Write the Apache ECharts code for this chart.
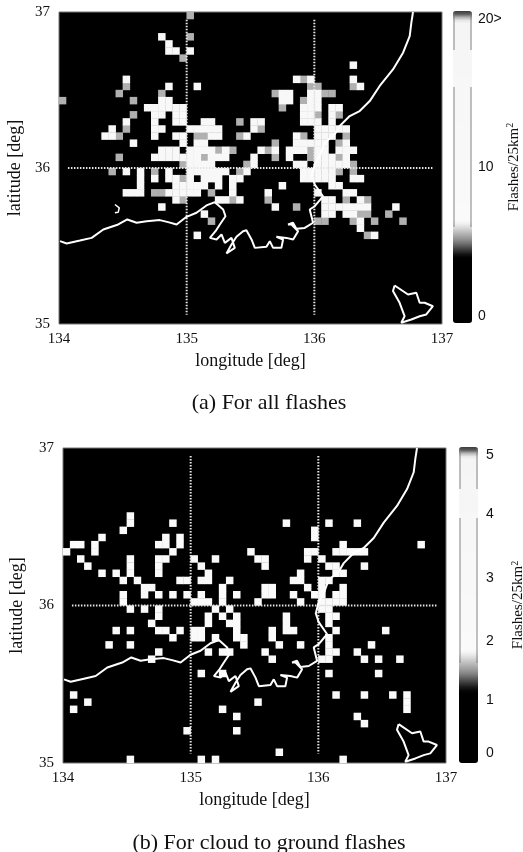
<!DOCTYPE html>
<html>
<head>
<meta charset="utf-8">
<style>html,body{margin:0;padding:0;background:#fff}#c{width:523px;height:852px}</style>
<script src="https://cdn.jsdelivr.net/npm/echarts@6/dist/echarts.min.js"></script>
</head>
<body>
<div id="c"></div>
<script>
// 5 km cells: 54 columns (1/18 deg lon) by 44 rows (1/22 deg lat), row 0 at 37N
const nCols = 54, nRows = 44;
const lonTicks = [134, 135, 136, 137];
const allHigh = 12, allMid = 5.5, cgHigh = 2;

// (a) all flashes: row -> columns of bright (saturated) cells
const allHighRows = {
  3:[14],4:[15],5:[15,16,18],7:[41],9:[9,33,35,41],10:[15,19,42],
  11:[31,32,35,36],12:[14,15,31,32,35,36],
  13:[12,13,14,15,16,17,34,35,36,38,39],14:[13,14,16,17,34,35,38],
  15:[9,13,16,17,20,21,27,28,34,35,36,38],
  16:[7,13,14,18,19,20,21,22,27,36,37,38,39,40],
  17:[6,7,13,16,17,21,22,26,33,36,37,38],
  18:[10,17,19,20,33,34,35,36,37,40],
  19:[14,15,16,18,19,20,21,23,28,30,32,33,34,36,37,39,40,41],
  20:[13,14,15,16,17,18,19,21,22,23,27,32,36,37,38,40],
  21:[18,19,20,21,27,33,34,36,37,38,39,40],
  22:[9,11,15,18,19,20,21,22,23,26,34,35,36,37,38],
  23:[11,13,15,16,18,20,21,22,24,25,34,35,36,37,38,41,42],
  24:[11,16,17,18,19,20,22,24,31,38,39],
  25:[9,10,11,15,16,17,18,19,24,29,36,40,41],
  26:[16,22,23,25,37,38,42],27:[14,30,37,38,39,40,41,42,43,47],
  28:[20,37,38,40,41],29:[42],30:[42],31:[19,44]
};
// (a) all flashes: row -> columns of mid-grey cells
const allMidRows = {
  0:[18],3:[18],6:[17],9:[34],10:[9,35,36,41],11:[8,14,30,37,38],12:[0,10,34],
  13:[31],14:[10,36,39],15:[25],16:[9,28],17:[8,19,20,25,34,40],18:[30,39],
  19:[22,24,29,35],20:[8,20,30,35,39],21:[17,26,41],22:[7,13,25,39,41],23:[17],
  25:[13,14,21],26:[17,24,29,40,43],27:[33],28:[42,43,46],29:[21,36,37,41,44,48],31:[43]
};
// (b) cloud to ground flashes: row -> columns of bright cells
const cgHighRows = {
  9:[9],10:[9,15,31,37,41],11:[8,35],12:[5,14,16,35],13:[1,2,4,13,14,16,39,50],
  14:[0,4,15,26,34,35,38,39,40,41,42],15:[2,9,13,14,18,21,27,28,34,36],
  16:[3,9,13,19,28,37,38,42],17:[5,7,9,13,20,33,38,39],
  18:[8,10,16,17,19,20,23,32,33,36,37],19:[11,12,22,28,29,34,36,39],
  20:[8,11,13,15,17,19,22,24,28,29,32,35,36,38,39],
  21:[8,18,19,20,22,27,33,36,37,38,39],22:[9,11,13,21,23,36,37],
  23:[13,20,22,24,31,37,38],24:[12,20,23,24,31,37],
  25:[7,9,13,14,16,18,19,24,29,31,32,38,45],26:[15,18,19,21,24,25,29,37],
  27:[6,9,25,30,33,37,43],28:[13,20,22,23,28,37,38,41],29:[12,29,36,37,42,44,47],
  31:[19,22,37,44],34:[1,38,42,46,48],35:[3,27,48],36:[1,22,48],37:[24,41],
  38:[42],39:[17,24],42:[30],43:[9,19,21,39]
};
// Coastlines, [lon, lat]
const coastMain = [[134.008,35.531],[134.06,35.516],[134.164,35.535],[134.256,35.552],[134.347,35.606],[134.464,35.638],[134.535,35.67],[134.608,35.649],[134.686,35.659],[134.79,35.666],[134.855,35.653],[134.921,35.638],[134.999,35.687],[135.077,35.713],[135.155,35.76],[135.221,35.781],[135.286,35.734],[135.304,35.691],[135.26,35.638],[135.226,35.595],[135.182,35.552],[135.234,35.542],[135.273,35.574],[135.299,35.52],[135.351,35.552],[135.377,35.488],[135.312,35.452],[135.351,35.51],[135.39,35.559],[135.442,35.595],[135.468,35.601],[135.508,35.542],[135.534,35.488],[135.625,35.495],[135.651,35.531],[135.677,35.488],[135.742,35.488],[135.755,35.542],[135.703,35.559],[135.781,35.552],[135.834,35.542],[135.873,35.595],[135.821,35.638],[135.794,35.638],[135.833,35.649],[135.859,35.61],[135.925,35.616],[135.99,35.649],[135.964,35.734],[136.003,35.755],[136.05,35.8],[136.068,35.819],[136.003,35.894],[135.98,35.95],[136.003,36.024],[136.042,36.077],[136.081,36.162],[136.16,36.216],[136.199,36.269],[136.277,36.333],[136.355,36.365],[136.434,36.429],[136.512,36.526],[136.616,36.632],[136.695,36.739],[136.747,36.846],[136.76,36.932],[136.773,37]];
const coastPeninsula = [[136.629,35.247],[136.616,35.211],[136.668,35.136],[136.707,35.05],[136.681,35.008],[136.76,35.029],[136.825,35.05],[136.877,35.061],[136.929,35.114],[136.864,35.136],[136.825,35.136],[136.799,35.2],[136.734,35.189],[136.629,35.247]];
const coastIsland = [[134.438,35.766],[134.472,35.745],[134.464,35.717],[134.438,35.713]];
// Dotted graticule segments
const gratLon135 = [[135,36.95],[135,35.06]];
const gratLon136 = [[136,36.95],[136,35.06]];
const gratLat36 = [[134.07,36],[136.93,36]];
// Colour bars
const barA = {min:-0.47,max:20.54,ticks:[0,10,20]};
const barB = {min:-0.168,max:5.134,ticks:[0,0.89,1.87,2.93,4,5]};

function cells(rows, v){
  const out = [];
  Object.keys(rows).forEach(r => rows[r].forEach(c => {
    out.push([134 + (c + 0.5) * 3 / nCols, 37 - (+r + 0.5) * 2 / nRows, v]);
  }));
  return out;
}
// grey ramp as equally spaced colour stops from [value, level] breakpoints
function ramp(min, max, pts){
  const n = 90, out = [];
  for (let i = 0; i < n; i++){
    const v = min + (max - min) * i / (n - 1);
    let l = pts[0][1];
    for (let k = 0; k < pts.length - 1; k++){
      if (v >= pts[k][0] && v <= pts[k+1][0]){
        l = pts[k][1] + (pts[k+1][1] - pts[k][1]) * (v - pts[k][0]) / (pts[k+1][0] - pts[k][0]);
      }
    }
    if (v > pts[pts.length-1][0]) l = pts[pts.length-1][1];
    l = Math.round(l);
    out.push('rgb(' + l + ',' + l + ',' + l + ')');
  }
  return out;
}
const serif = '"Liberation Serif", serif';
const sans = '"Liberation Sans", sans-serif';

function lineS(i, data, width, dotted){
  return {type:'line', xAxisIndex:i, yAxisIndex:i, data:data, showSymbol:false, silent:true, z:dotted?4:5,
    animation:false, lineStyle:{color: dotted?'#e6e6e6':'#fff', width:width, type: dotted?[1.5,1.5]:'solid'}};
}
const mainXAxis = (i, nameGap) => ({gridIndex:i, type:'value', min:134, max:137, interval:1,
  axisLine:{show:false}, axisTick:{show:false}, splitLine:{show:false},
  axisLabel:{color:'#111', fontFamily:serif, fontSize:15, margin:8, customValues:lonTicks,
    showMinLabel:true, showMaxLabel:true},
  name:'longitude [deg]', nameLocation:'middle', nameGap:nameGap,
  nameTextStyle:{color:'#111', fontFamily:serif, fontSize:18}});
const mainYAxis = (i, nameGap) => ({gridIndex:i, type:'value', min:35, max:37, interval:1,
  axisLine:{show:false}, axisTick:{show:false}, splitLine:{show:false},
  axisLabel:{color:'#111', fontFamily:serif, fontSize:15, margin:9, padding:[6,0,0,0]},
  name:'latitude [deg]', nameLocation:'middle', nameGap:nameGap, nameRotate:90,
  nameTextStyle:{color:'#111', fontFamily:serif, fontSize:18}});
const barXAxis = i => ({gridIndex:i, type:'value', min:0, max:1, show:false});
const barYAxis = (i, bar, fmt, gap, margin) => ({gridIndex:i, type:'value', min:bar.min, max:bar.max, position:'right',
  axisLine:{show:false}, axisTick:{show:false}, splitLine:{show:false},
  axisLabel:{color:'#111', fontFamily:sans, fontSize:14, margin:margin, customValues:bar.ticks, formatter:fmt},
  name:'Flashes/25km{s|2}', nameLocation:'middle', nameGap:gap, nameRotate:90,
  nameTextStyle:{color:'#111', fontFamily:serif, fontSize:15, rich:{s:{fontFamily:serif, fontSize:10, verticalAlign:'top', color:'#111', padding:[0,0,6,0]}}}});
const edge = (x, y, h) => ({type:'rect', shape:{x:x, y:y, width:2, height:h}, style:{fill:'rgba(120,120,120,0.45)'}, silent:true, z:20});

const option = {
  backgroundColor:'#fff',
  animation:false,
  title:[
    {text:'(a) For all flashes', left:264, top:387, textAlign:'center', textStyle:{fontFamily:serif, fontSize:22, fontWeight:'normal', color:'#111'}},
    {text:'(b) For cloud to ground flashes', left:264, top:827, textAlign:'center', textStyle:{fontFamily:serif, fontSize:22, fontWeight:'normal', color:'#111'}}
  ],
  grid:[
    {left:59, top:12, width:383, height:312, outerBoundsMode:'none', show:true, backgroundColor:'#000', borderColor:'#777', borderWidth:1},
    {left:63, top:448, width:383, height:315, outerBoundsMode:'none', show:true, backgroundColor:'#000', borderColor:'#777', borderWidth:1},
    {left:453, top:11, width:19, height:312, outerBoundsMode:'none'},
    {left:459, top:447, width:19, height:316, outerBoundsMode:'none'}
  ],
  xAxis:[mainXAxis(0,28), mainXAxis(1,28), barXAxis(2), barXAxis(3)],
  yAxis:[mainYAxis(0,35), mainYAxis(1,37),
    barYAxis(2, barA, v => v === 20 ? '20>' : String(v), 32, 6),
    barYAxis(3, barB, v => String(Math.round(v)), 32, 8)],
  visualMap:[
    {type:'continuous', seriesIndex:0, dimension:2, min:barA.min, max:barA.max, calculable:false, hoverLink:false,
     left:453, top:11, itemWidth:19, itemHeight:312, padding:0, text:null, showLabel:false, realtime:false,
     inRange:{color:ramp(barA.min, barA.max, [[barA.min,0],[4,0],[5.1,140],[6.3,250],[20.0,245],[20.2,110],[20.54,60]])}},
    {type:'continuous', seriesIndex:1, dimension:2, min:barB.min, max:barB.max, calculable:false, hoverLink:false,
     left:459, top:447, itemWidth:19, itemHeight:316, padding:0, text:null, showLabel:false, realtime:false,
     inRange:{color:ramp(barB.min, barB.max, [[barB.min,0],[1.05,0],[1.35,140],[1.7,250],[5.0,245],[5.05,110],[5.134,60]])}}
  ],
  graphic:[edge(453,13,37), edge(470,13,37), edge(453,87,140), edge(470,87,140),
           edge(459,449,40), edge(476,449,40), edge(459,518,145), edge(476,518,145)],
  series:[
    {type:'scatter', xAxisIndex:0, yAxisIndex:0, symbol:'rect', symbolSize:7.5, silent:true, z:2, itemStyle:{opacity:1},
     data:cells(allMidRows, allMid).concat(cells(allHighRows, allHigh))},
    {type:'scatter', xAxisIndex:1, yAxisIndex:1, symbol:'rect', symbolSize:7.5, silent:true, z:2, itemStyle:{opacity:1},
     data:cells(cgHighRows, cgHigh)},
    lineS(0, coastMain, 2, false), lineS(0, coastPeninsula, 2, false), lineS(0, coastIsland, 1.5, false),
    lineS(1, coastMain, 2, false), lineS(1, coastPeninsula, 2, false),
    lineS(0, gratLon135, 2, true), lineS(0, gratLon136, 2, true), lineS(0, gratLat36, 2, true),
    lineS(1, gratLon135, 2, true), lineS(1, gratLon136, 2, true), lineS(1, gratLat36, 2, true),
    {type:'line', xAxisIndex:2, yAxisIndex:2, data:[], silent:true},
    {type:'line', xAxisIndex:3, yAxisIndex:3, data:[], silent:true}
  ]
};
const chart = echarts.init(document.getElementById('c'), null, {renderer:'canvas'});
chart.setOption(option);
</script>
</body>
</html>
